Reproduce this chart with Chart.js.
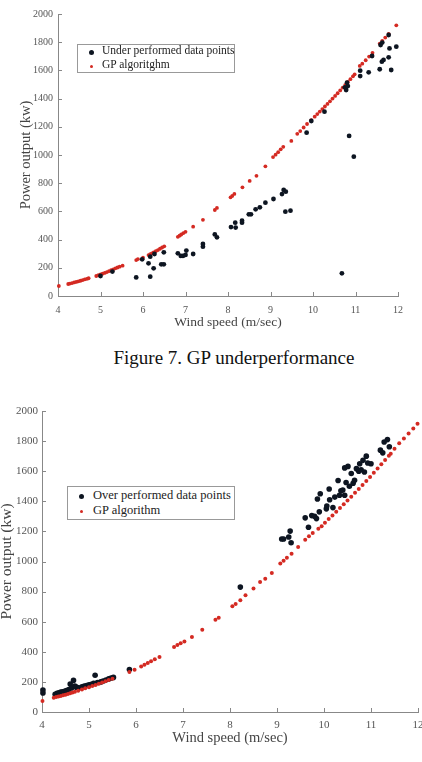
<!DOCTYPE html>
<html>
<head>
<meta charset="utf-8">
<script src="https://cdn.jsdelivr.net/npm/chart.js@4"></script>
<style>
  body { margin: 0; background: #fff; width: 422px; height: 762px; position: relative; overflow: hidden; font-family: "Liberation Serif", serif; }
  .box { position: absolute; }
  .legend { position: absolute; border: 1px solid #999; background: #fff; color: #222; box-sizing: border-box; }
  .legend div { position: absolute; white-space: nowrap; }
  .dot { position: absolute; border-radius: 50%; }
  #caption { position: absolute; left: 23px; width: 422px; top: 347px; text-align: center; font-size: 19px; color: #111; }
</style>
</head>
<body>
<div class="box" style="left:0;top:0;width:422px;height:335px"><canvas id="chartUnder"></canvas></div>
<div class="box" style="left:0;top:380px;width:422px;height:382px"><canvas id="chartOver"></canvas></div>

<div class="legend" style="left:77px;top:44px;width:158px;height:29px">
  <span class="dot" style="left:11px;top:5px;width:5px;height:5px;background:#0d1521"></span>
  <div style="left:24px;top:-1px;font-size:11.5px">Under performed data points</div>
  <span class="dot" style="left:12px;top:20px;width:3px;height:3px;background:#d42a22"></span>
  <div style="left:24px;top:13px;font-size:11.5px">GP algoritghm</div>
</div>
<div class="legend" style="left:67px;top:486px;width:168px;height:34px">
  <span class="dot" style="left:11px;top:7px;width:5px;height:5px;background:#0d1521"></span>
  <div style="left:25px;top:1px;font-size:12.5px">Over performed data points</div>
  <span class="dot" style="left:12px;top:23px;width:3px;height:3px;background:#d42a22"></span>
  <div style="left:25px;top:16px;font-size:12.5px">GP algorithm</div>
</div>
<div id="caption">Figure 7. GP underperformance</div>

<script>
// Figure 7 (top): under performed points vs GP curve
const underX = [5.0, 5.28, 5.84, 5.98, 6.13, 6.17, 6.17, 6.25, 6.27, 6.43, 6.49, 6.49, 6.82, 6.89, 6.94, 7.0, 7.02, 7.18,
  7.41, 7.41, 7.69, 7.74, 8.07, 8.17, 8.18, 8.33, 8.33, 8.49, 8.54, 8.65, 8.75, 8.88, 9.07, 9.27, 9.31, 9.36, 9.35, 9.47,
  9.85, 9.96, 10.27, 10.68, 10.75, 10.78, 10.8, 10.82, 10.85, 10.96, 11.11, 11.11, 11.31, 11.39, 11.57, 11.59, 11.62,
  11.66, 11.78, 11.8, 11.84, 11.96, 11.63, 11.78];
const underY = [142, 173, 132, 260, 232, 137, 279, 196, 298, 225, 225, 310, 303, 284, 284, 291, 322, 298,
  350, 369, 437, 416, 489, 520, 485, 534, 520, 579, 579, 615, 629, 662, 688, 723, 752, 740, 598, 605,
  1158, 1241, 1307, 161, 1480, 1461, 1513, 1489, 1135, 988, 1598, 1560, 1586, 1702, 1608, 1780, 1662,
  1674, 1693, 1756, 1603, 1768, 1797, 1851];

const gpTopX = [4.02, 4.24, 4.28, 4.33, 4.38, 4.43, 4.48, 4.53, 4.58, 4.63, 4.68, 4.72,
  4.9, 4.95, 5.0, 5.05, 5.1, 5.15, 5.2, 5.25, 5.3, 5.35, 5.4, 5.45, 5.52, 5.84, 5.88,
  6.0, 6.13, 6.17, 6.21, 6.25, 6.3, 6.35, 6.4, 6.45, 6.5, 6.82, 6.86, 6.9, 6.95, 7.0, 7.18, 7.41, 7.69, 7.74,
  8.06, 8.1, 8.15, 8.34, 8.51, 8.67, 8.88, 9.06, 9.12, 9.18, 9.24, 9.3, 9.49, 9.63, 9.7, 9.78, 9.86, 9.96,
  10.04, 10.1, 10.16, 10.22, 10.28, 10.34, 10.4, 10.46, 10.52, 10.58, 10.64, 10.7, 10.76, 10.82, 10.88, 10.94, 10.98,
  11.1, 11.16, 11.24, 11.32, 11.4, 11.57, 11.63, 11.7, 11.78, 11.96];
const gpTopY = [71, 85, 88, 92, 96, 100, 104, 108, 113, 118, 122, 126,
  142, 148, 153, 158, 164, 170, 176, 183, 189, 196, 202, 208, 215, 255, 262,
  272, 290, 296, 303, 310, 318, 326, 335, 344, 352, 420, 428, 436, 446, 455, 492, 540, 610, 625,
  700, 710, 724, 771, 816, 852, 920, 985, 1002, 1020, 1040, 1058, 1100, 1150, 1170, 1195, 1220, 1248,
  1272, 1290, 1308, 1326, 1344, 1362, 1381, 1400, 1419, 1438, 1458, 1478, 1498, 1518, 1538, 1558, 1572,
  1632, 1648, 1672, 1698, 1725, 1790, 1810, 1833, 1858, 1920];

// Figure 8 (bottom): over performed points vs GP curve
const overX = [4.02, 4.02, 4.28, 4.32, 4.36, 4.4, 4.44, 4.48, 4.52, 4.57, 4.6, 4.63, 4.67, 4.7, 4.73, 4.78, 4.85, 4.9,
  4.95, 5.0, 5.05, 5.1, 5.13, 5.18, 5.25, 5.3, 5.36, 5.42, 5.47, 5.52, 5.86, 8.22,
  9.1, 9.14, 9.25, 9.28, 9.3, 9.6, 9.67, 9.74, 9.8, 9.84, 9.86, 9.9, 9.92, 10.05, 10.06, 10.11, 10.12, 10.19, 10.23,
  10.3, 10.33, 10.36, 10.4, 10.44, 10.44, 10.47, 10.51, 10.54, 10.58, 10.62, 10.65, 10.69, 10.74, 10.76, 10.79,
  10.83, 10.86, 10.9, 10.93, 11.0, 11.2, 11.25, 11.28, 11.35, 11.39];
const overY = [146, 126, 118, 124, 128, 132, 135, 138, 142, 150, 186, 160, 210, 172, 165, 160, 168, 172,
  176, 180, 184, 190, 244, 196, 200, 206, 212, 220, 226, 230, 282, 830,
  1150, 1150, 1163, 1202, 1125, 1290, 1228, 1305, 1300, 1285, 1415, 1330, 1450, 1350, 1368, 1482, 1410, 1358, 1428,
  1538, 1440, 1470, 1475, 1440, 1622, 1525, 1632, 1500, 1585, 1520, 1540, 1617, 1600, 1650, 1610,
  1672, 1595, 1700, 1654, 1650, 1740, 1722, 1794, 1810, 1762];

const gpBotX = [4.01, 4.25, 4.3, 4.35, 4.4, 4.45, 4.5, 4.55, 4.6, 4.65, 4.7, 4.77,
  4.85, 4.92, 5.0, 5.07, 5.14, 5.21, 5.28, 5.35, 5.42, 5.5, 5.86, 5.97,
  6.11, 6.18, 6.25, 6.32, 6.4, 6.5, 6.81, 6.88, 6.95, 7.03, 7.19, 7.41, 7.69, 7.76,
  8.05, 8.12, 8.22, 8.33, 8.5, 8.64, 8.75, 8.89, 9.07, 9.14, 9.21, 9.31, 9.45, 9.6, 9.68, 9.76, 9.88,
  9.95, 10.02, 10.1, 10.18, 10.26, 10.34, 10.42, 10.5, 10.58, 10.66, 10.74, 10.82, 10.9, 10.98,
  11.06, 11.14, 11.22, 11.3, 11.38, 11.42, 11.5, 11.6, 11.7, 11.8, 11.9, 11.99];
const gpBotY = [73, 95, 99, 103, 107, 111, 115, 120, 125, 130, 135, 141,
  150, 157, 165, 172, 180, 188, 196, 204, 212, 221, 266, 281,
  303, 314, 326, 338, 351, 365, 432, 445, 456, 468, 498, 547, 613, 627,
  702, 718, 742, 775, 820, 864, 886, 924, 986, 1005, 1025, 1052, 1096, 1145, 1168, 1190, 1218,
  1235, 1258, 1282, 1306, 1330, 1355, 1380, 1405, 1430, 1456, 1482, 1508, 1535, 1562,
  1590, 1618, 1646, 1674, 1702, 1716, 1750, 1785, 1818, 1850, 1884, 1916];

const dark = "#0d1521";
const red = "#d42a22";
const serif = "'Liberation Serif', serif";

function pts(xs, ys) {
  return xs.map((x, i) => ({ x: x, y: ys[i] }));
}

// ticks in this figure point inward from the axis lines
const innerTicks = {
  id: "innerTicks",
  beforeDatasetsDraw(chart) {
    const { ctx, chartArea, scales } = chart;
    ctx.save();
    ctx.strokeStyle = "#888";
    ctx.lineWidth = 1;
    ctx.beginPath();
    scales.x.ticks.forEach(t => {
      const px = Math.round(scales.x.getPixelForValue(t.value)) + 0.5;
      ctx.moveTo(px, chartArea.bottom);
      ctx.lineTo(px, chartArea.bottom - 4);
    });
    scales.y.ticks.forEach(t => {
      const py = Math.round(scales.y.getPixelForValue(t.value)) + 0.5;
      ctx.moveTo(chartArea.left, py);
      ctx.lineTo(chartArea.left + 4, py);
    });
    ctx.stroke();
    ctx.restore();
  }
};

function makeChart(id, cfg) {
  return new Chart(document.getElementById(id), {
    type: "scatter",
    data: {
      datasets: cfg.datasets
    },
    options: {
      responsive: true,
      maintainAspectRatio: false,
      animation: false,
      layout: { padding: cfg.padding },
      plugins: { legend: { display: false }, tooltip: { enabled: false } },
      scales: {
        x: {
          type: "linear",
          min: 4, max: 12,
          grid: { display: false, drawTicks: false },
          border: { display: true, color: "#888" },
          ticks: { stepSize: 1, color: "#555", padding: cfg.xTickPad, font: { family: serif, size: cfg.tickSize },
            callback: v => String(v) },
          title: { display: true, text: "Wind speed (m/sec)", color: "#444", padding: { top: 0, bottom: cfg.xTitlePad },
            font: { family: serif, size: cfg.xTitleSize } },
          afterFit(s) {
            s.height = cfg.xHeight;
            if (cfg.cropRight) s.paddingRight = 0; // last label runs off the page, as in the scan
          }
        },
        y: {
          min: 0, max: 2000,
          grid: { display: false, drawTicks: false },
          border: { display: true, color: "#888" },
          ticks: { stepSize: 200, color: "#555", padding: cfg.yTickPad, font: { family: serif, size: cfg.tickSize },
            callback: v => String(v) },
          title: { display: true, text: "Power output (kw)", color: "#444", padding: { top: cfg.yTitlePad, bottom: 0 },
            font: { family: serif, size: cfg.yTitleSize } },
          afterFit(s) { s.width = cfg.yWidth; }
        }
      }
    },
    plugins: [innerTicks]
  });
}

makeChart("chartUnder", {
  padding: { left: 0, top: 14, right: 24, bottom: 0 },
  xHeight: 39, yWidth: 58,
  tickSize: 10, xTickPad: 8, yTickPad: 5,
  xTitleSize: 13.5, xTitlePad: 4,
  yTitleSize: 14.5, yTitlePad: 17,
  datasets: [
    { label: "Under performed data points", data: pts(underX, underY), backgroundColor: dark, borderWidth: 0, pointRadius: 2.4, clip: false },
    { label: "GP algoritghm", data: pts(gpTopX, gpTopY), backgroundColor: red, borderWidth: 0, pointRadius: 1.9, clip: false }
  ]
});

makeChart("chartOver", {
  padding: { left: 0, top: 31, right: 1, bottom: 0 },
  xHeight: 50, yWidth: 42, cropRight: true,
  tickSize: 11, xTickPad: 7, yTickPad: 4,
  xTitleSize: 14.5, xTitlePad: 15,
  yTitleSize: 15.5, yTitlePad: -2,
  datasets: [
    { label: "GP algorithm", data: pts(gpBotX, gpBotY), backgroundColor: red, borderWidth: 0, pointRadius: 2, clip: false },
    { label: "Over performed data points", data: pts(overX, overY), backgroundColor: dark, borderWidth: 0, pointRadius: 2.8, clip: false }
  ]
});
</script>
</body>
</html>
